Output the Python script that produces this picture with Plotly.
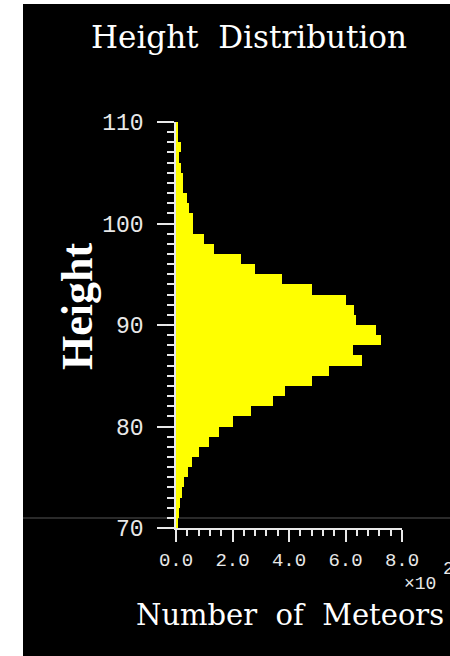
import plotly.graph_objects as go

# Data: 1-km height bins (km) and meteor counts per bin
bin_lower = list(range(70, 110))
counts = [8, 12, 14, 20, 30, 41, 58, 82, 116, 153,
          203, 265, 343, 387, 481, 543, 657, 625, 725, 709,
          636, 629, 603, 481, 375, 281, 230, 136, 100, 61,
          61, 47, 40, 24, 24, 18, 12, 18, 6, 6]
x_scale = 100  # axis shown in units of 10^2
x_ticks = [0, 2, 4, 6, 8]
y_ticks = [70, 80, 90, 100, 110]

centers = [b + 0.5 for b in bin_lower]
xvals = [c / x_scale for c in counts]

W, H = 450, 656
L, R, T, B = 176, 48, 122, 128
PW, PH = W - L - R, H - T - B

def px(x):
    return (x - L) / PW

def py(y):
    return (H - B - y) / PH

fig = go.Figure()
fig.add_trace(go.Bar(
    y=centers, x=xvals, orientation="h", width=1.0,
    marker=dict(color="#ffff00", line=dict(width=0)),
    hoverinfo="skip",
))

tick_col = "#e8e8e8"
fig.update_layout(
    width=W, height=H,
    margin=dict(l=L, r=R, t=T, b=B, pad=0),
    paper_bgcolor="white",
    plot_bgcolor="rgba(0,0,0,0)",
    showlegend=False,
    bargap=0,
    xaxis=dict(
        range=[0, 8], tickvals=x_ticks, tickformat=".1f",
        showgrid=False, zeroline=False,
        showline=True, linecolor=tick_col, linewidth=1.5,
        ticks="outside", ticklen=12, tickwidth=1.5, tickcolor=tick_col,
        minor=dict(dtick=0.4, ticks="outside", ticklen=6, tickwidth=1.5, tickcolor=tick_col),
        tickfont=dict(family="Liberation Mono", size=19, color=tick_col),
        ticklabelstandoff=1,
        fixedrange=True,
    ),
    yaxis=dict(
        range=[70, 110], tickvals=y_ticks,
        showgrid=False, zeroline=False,
        showline=True, linecolor=tick_col, linewidth=1.5,
        ticks="outside", ticklen=17, tickwidth=1.5, tickcolor=tick_col,
        minor=dict(dtick=1, ticks="outside", ticklen=7, tickwidth=1.5, tickcolor=tick_col),
        tickfont=dict(family="Liberation Mono", size=23, color=tick_col),
        ticklabelstandoff=9,
        layer="below traces",
        fixedrange=True,
    ),
    shapes=[
        dict(type="rect", xref="paper", yref="paper",
             x0=px(23), x1=2, y0=-1, y1=py(4),
             fillcolor="black", line=dict(width=0), layer="below"),
        dict(type="line", xref="paper", yref="paper",
             x0=px(23), x1=2, y0=py(518), y1=py(518),
             line=dict(color="#555555", width=1), layer="below"),
    ],
    annotations=[
        dict(text="Height\u00a0 Distribution", xref="paper", yref="paper",
             x=px(249), y=py(37), xanchor="center", yanchor="middle",
             showarrow=False, font=dict(family="DejaVu Serif", size=31, color="white")),
        dict(text="<b>Height</b>", xref="paper", yref="paper",
             x=px(77), y=py(307), xanchor="center", yanchor="middle", textangle=-90,
             showarrow=False, font=dict(family="Liberation Serif", size=44, color="white")),
        dict(text="Number\u00a0 of\u00a0 Meteors", xref="paper", yref="paper",
             x=px(290), y=py(615), xanchor="center", yanchor="middle",
             showarrow=False, font=dict(family="DejaVu Serif", size=29, color="white")),
        dict(text="×10", xref="paper", yref="paper",
             x=px(402), y=py(584), xanchor="left", yanchor="middle",
             showarrow=False, font=dict(family="Liberation Mono", size=18, color=tick_col)),
        dict(text="2", xref="paper", yref="paper",
             x=px(441), y=py(569), xanchor="left", yanchor="middle",
             showarrow=False, font=dict(family="Liberation Mono", size=18, color=tick_col)),
    ],
)

fig.write_html("out.html")
